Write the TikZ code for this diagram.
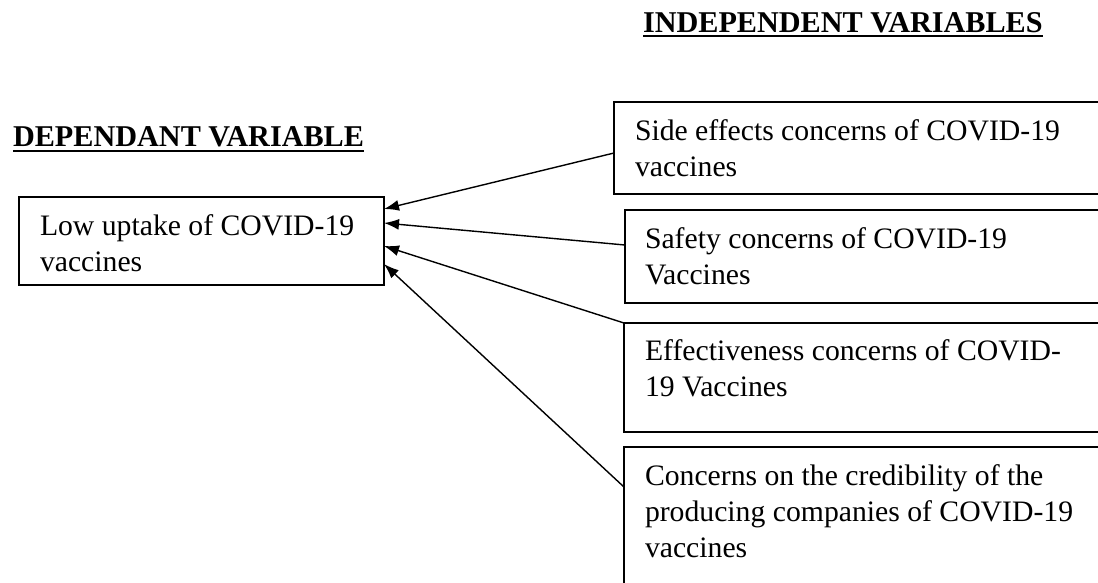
\documentclass[tikz,border=0pt]{standalone}
\usepackage{fontspec}
\setmainfont{Liberation Serif}
\usetikzlibrary{arrows.meta}
\tikzset{
  box/.style={draw, line width=1.5pt, inner sep=0pt, outer sep=0pt, anchor=north west},
  txt/.style={inner sep=0pt, outer sep=0pt, anchor=north west, align=left, font=\fontsize{29.7}{36}\selectfont},
  head/.style={inner sep=0pt, outer sep=0pt, anchor=base west, font=\fontsize{30.2}{36}\selectfont\bfseries},
  uline/.style={line width=2pt},
  arr/.style={line width=1.4pt, -{Latex[length=15pt, width=11pt]}}
}
\begin{document}
\begin{tikzpicture}[x=1pt, y=-1pt]
\useasboundingbox (0,0) rectangle (1098,582);
\fill[white] (0,0) rectangle (1098,582);
\clip (0,0) rectangle (1098,582);

% headings
\node[head] (ind) at (643,32) {INDEPENDENT VARIABLES};
\draw[uline] ([yshift=-4pt]ind.base west) -- ([yshift=-4pt]ind.base east);
\node[head] (dv) at (13,146) {DEPENDANT VARIABLE};
\draw[uline] ([yshift=-5pt]dv.base west) -- ([yshift=-5pt]dv.base east);

% dependent box
\node[box, minimum width=365pt, minimum height=88pt] (dep) at (19,197) {};
\node[txt] (depT) at (40,209.8) {\strut Low uptake of COVID-19\\\strut vaccines};

% independent boxes
\node[box, minimum width=520pt, minimum height=92pt] (b1) at (614,102) {};
\node[txt] (b1T) at (635,114.8) {\strut Side effects concerns of COVID-19\\\strut vaccines};

\node[box, minimum width=520pt, minimum height=93pt] (b2) at (625,210) {};
\node[txt] (b2T) at (645,222.8) {\strut Safety concerns of COVID-19\\\strut Vaccines};

\node[box, minimum width=520pt, minimum height=109pt] (b3) at (624,323) {};
\node[txt] (b3T) at (645,334.8) {\strut Effectiveness concerns of COVID-\\\strut 19 Vaccines};

\node[box, minimum width=520pt, minimum height=160pt] (b4) at (624,447) {};
\node[txt] (b4T) at (645,459.8) {\strut Concerns on the credibility of the\\\strut producing companies of COVID-19\\\strut vaccines};

% arrows
\draw[arr] ([yshift=-5pt]b1.west) -- ([yshift=32pt]dep.east);
\draw[arr] ([yshift=11.5pt]b2.west) -- ([yshift=18pt]dep.east);
\draw[arr] (b3.north west) -- ([yshift=-5pt]dep.east);
\draw[arr] ([yshift=-40pt]b4.north west) -- ([yshift=-23pt]dep.east);
\end{tikzpicture}
\end{document}
